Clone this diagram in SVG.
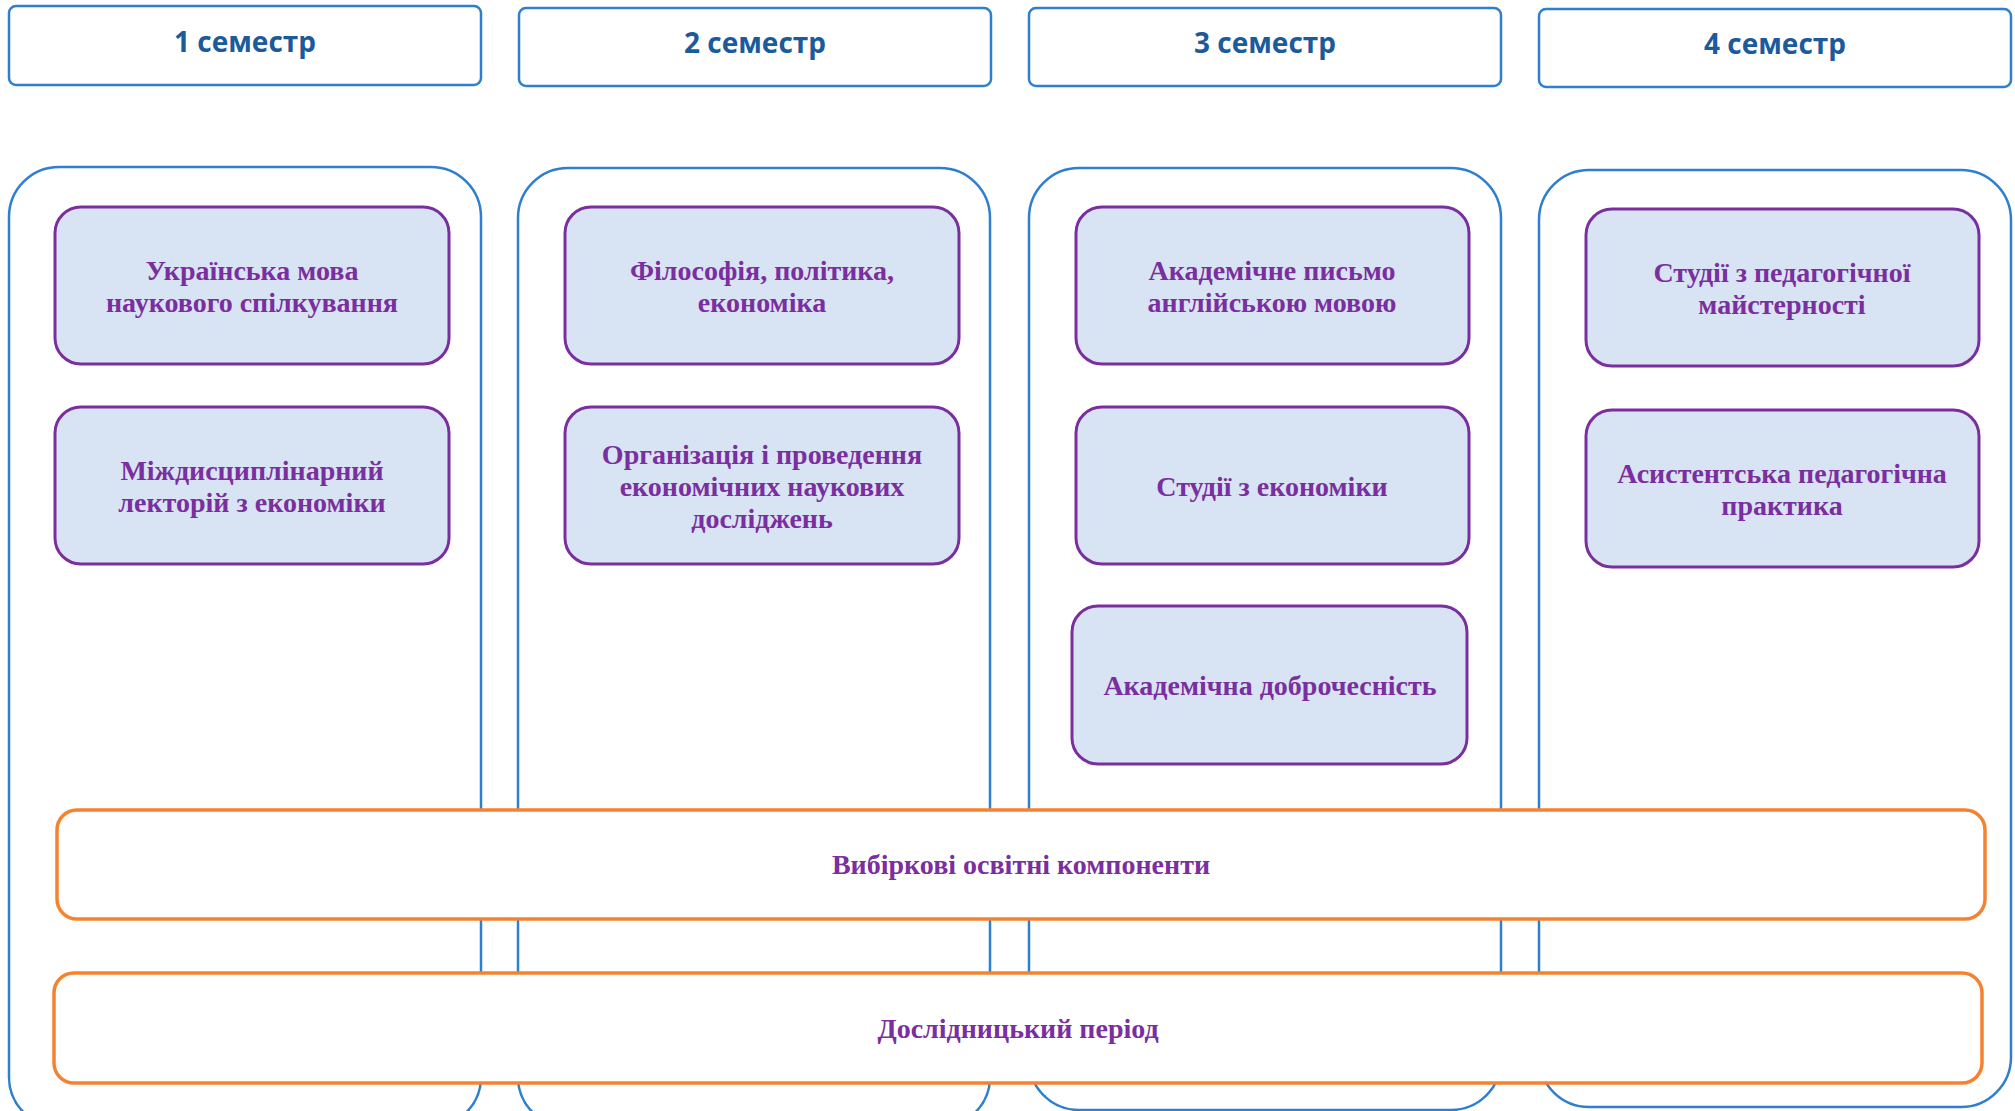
<svg xmlns="http://www.w3.org/2000/svg" width="2015" height="1111" viewBox="0 0 2015 1111">
<style>
.hdr{fill:#fff;stroke:#2F7FD0;stroke-width:2.5}
.col{fill:#fff;stroke:#2F7FD0;stroke-width:2.5}
.crs{fill:#D8E4F3;stroke:#7A2E9F;stroke-width:3}
.opt{fill:#fff;stroke:#F58230;stroke-width:3.5}
.ht{font-family:"Open Sans","Noto Sans",sans-serif;font-weight:bold;font-size:28px;fill:#1B5A9B;text-anchor:middle}
.ct{font-family:"Liberation Serif","Times New Roman",serif;font-weight:bold;font-size:28px;fill:#7A2E9F;text-anchor:middle}
</style>
<rect width="2015" height="1111" fill="#fff"/>
<g id="columns">
<g id="col1"><rect class="col" x="9" y="167" width="472" height="960" rx="50"/></g>
<g id="col2"><rect class="col" x="518" y="168" width="472" height="959" rx="50"/></g>
<g id="col3"><rect class="col" x="1029" y="168" width="472" height="942" rx="50"/></g>
<g id="col4"><rect class="col" x="1539" y="170" width="472" height="937" rx="50"/></g>
</g>
<g id="headers">
<g id="h1"><rect class="hdr" x="9" y="6" width="472" height="79" rx="7"/><text class="ht" x="245" y="52">1 семестр</text></g>
<g id="h2"><rect class="hdr" x="519" y="8" width="472" height="78" rx="7"/><text class="ht" x="755" y="53">2 семестр</text></g>
<g id="h3"><rect class="hdr" x="1029" y="8" width="472" height="78" rx="7"/><text class="ht" x="1265" y="53">3 семестр</text></g>
<g id="h4"><rect class="hdr" x="1539" y="9" width="472" height="78" rx="7"/><text class="ht" x="1775" y="54">4 семестр</text></g>
</g>
<g id="connectors"></g>
<g id="c1a"><rect class="crs" x="55" y="207" width="394" height="157" rx="26"/><text class="ct" x="252" y="280">Українська мова</text><text class="ct" x="252" y="312">наукового спілкування</text></g>
<g id="c1b"><rect class="crs" x="55" y="407" width="394" height="157" rx="26"/><text class="ct" x="252" y="480">Міждисциплінарний</text><text class="ct" x="252" y="512">лекторій з економіки</text></g>
<g id="c2a"><rect class="crs" x="565" y="207" width="394" height="157" rx="26"/><text class="ct" x="762" y="280">Філософія, політика,</text><text class="ct" x="762" y="312">економіка</text></g>
<g id="c2b"><rect class="crs" x="565" y="407" width="394" height="157" rx="26"/><text class="ct" x="762" y="464">Організація і проведення</text><text class="ct" x="762" y="496">економічних наукових</text><text class="ct" x="762" y="528">досліджень</text></g>
<g id="c3a"><rect class="crs" x="1076" y="207" width="393" height="157" rx="26"/><text class="ct" x="1272" y="280">Академічне письмо</text><text class="ct" x="1272" y="312">англійською мовою</text></g>
<g id="c3b"><rect class="crs" x="1076" y="407" width="393" height="157" rx="26"/><text class="ct" x="1272" y="496">Студії з економіки</text></g>
<g id="c3c"><rect class="crs" x="1072" y="606" width="395" height="158" rx="26"/><text class="ct" x="1270" y="695">Академічна доброчесність</text></g>
<g id="c4a"><rect class="crs" x="1586" y="209" width="393" height="157" rx="26"/><text class="ct" x="1782" y="282">Студії з педагогічної</text><text class="ct" x="1782" y="314">майстерності</text></g>
<g id="c4b"><rect class="crs" x="1586" y="410" width="393" height="157" rx="26"/><text class="ct" x="1782" y="483">Асистентська педагогічна</text><text class="ct" x="1782" y="515">практика</text></g>
<g id="opt"><rect class="opt" x="57" y="810" width="1928" height="109" rx="20"/><text class="ct" x="1021" y="874">Вибіркові освітні компоненти</text></g>
<g id="research"><rect class="opt" x="54" y="973" width="1928" height="110" rx="20"/><text class="ct" x="1018" y="1038">Дослідницький період</text></g>
</svg>
